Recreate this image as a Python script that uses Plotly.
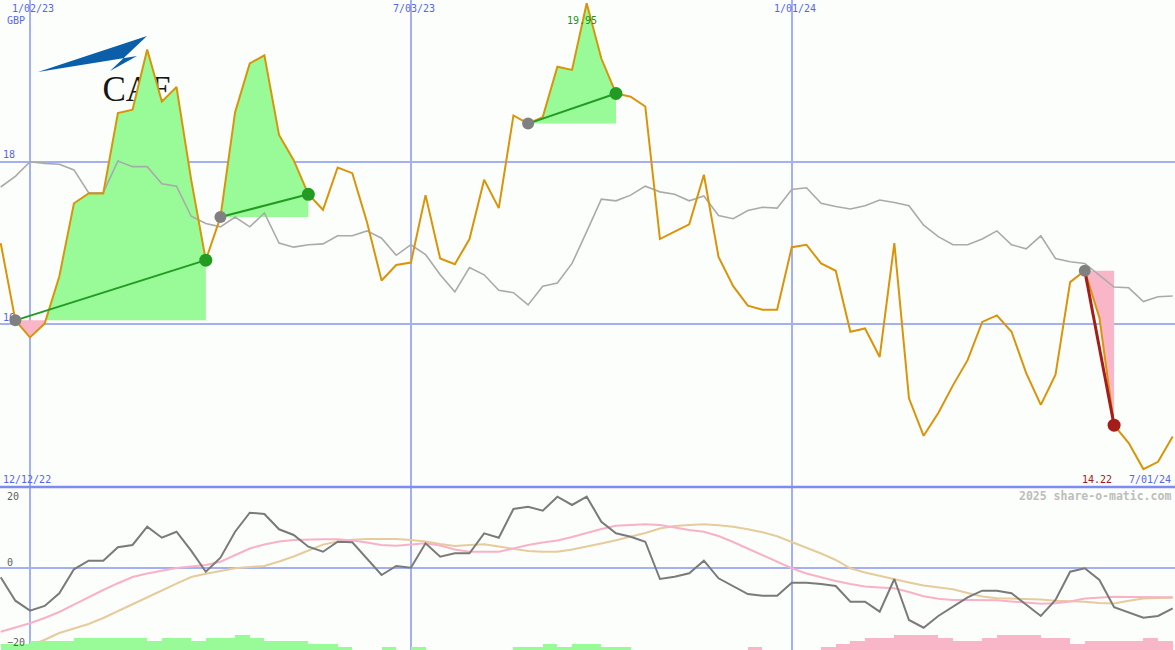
import plotly.graph_objects as go
import pandas as pd

# weekly closes, Monday 19 Dec 2022 .. Monday 1 Jul 2024
dates = pd.date_range("2022-12-19", periods=81, freq="7D")

price = [
    17.00, 16.05, 15.84, 16.01, 16.59, 17.49, 17.61, 17.61, 18.60, 18.64,
    19.38, 18.74, 18.92, 17.78, 16.79, 17.32, 18.61, 19.21, 19.31, 18.33,
    18.02, 17.60, 17.41, 17.93, 17.86, 17.26, 16.54, 16.73, 16.76, 17.59,
    16.81, 16.74, 17.05, 17.78, 17.43, 18.57, 18.47, 18.55, 19.17, 19.13,
    19.95, 19.27, 18.84, 18.80, 18.68, 17.05, 17.14, 17.23, 17.84, 16.83,
    16.47, 16.23, 16.18, 16.18, 16.95, 16.98, 16.75, 16.66, 15.91, 15.95,
    15.60, 17.00, 15.09, 14.63, 14.91, 15.25, 15.56, 16.03, 16.11, 15.91,
    15.40, 15.01, 15.38, 16.52, 16.66, 16.08, 14.76, 14.54, 14.22, 14.31,
    14.62,
]

moving_avg = [
    17.69, 17.82, 18.00, 17.98, 17.97, 17.90, 17.62, 17.62, 18.01, 17.94,
    17.94, 17.73, 17.70, 17.33, 17.24, 17.20, 17.32, 17.20, 17.37, 17.00,
    16.95, 16.98, 16.99, 17.09, 17.09, 17.15, 17.06, 16.85, 16.98, 16.86,
    16.61, 16.40, 16.70, 16.61, 16.42, 16.39, 16.24, 16.47, 16.51, 16.75,
    17.14, 17.54, 17.52, 17.59, 17.70, 17.63, 17.60, 17.52, 17.58, 17.34,
    17.30, 17.40, 17.44, 17.43, 17.66, 17.68, 17.49, 17.45, 17.42, 17.46,
    17.53, 17.50, 17.46, 17.22, 17.08, 16.98, 16.98, 17.05, 17.15, 16.98,
    16.93, 17.09, 16.81, 16.77, 16.75, 16.61, 16.46, 16.45, 16.28, 16.34,
    16.35,
]

momentum = [
    -2.63, -9.04, -11.78, -10.49, -7.01, -0.44, 1.92, 1.92, 5.59, 6.22,
    11.23, 8.22, 9.86, 4.66, -1.10, 2.74, 9.86, 15.07, 14.71, 10.52,
    8.96, 5.75, 4.38, 7.12, 6.96, 2.38, -2.00, 0.47, 0.00, 6.68,
    3.01, 3.95, 3.95, 9.42, 8.22, 16.08, 16.71, 15.62, 19.45, 17.18,
    19.45, 12.60, 9.42, 8.49, 7.12, -3.10, -2.47, -1.53, 1.92, -2.90,
    -5.01, -7.21, -7.67, -7.67, -4.11, -4.11, -4.47, -5.01, -9.32, -9.32,
    -12.05, -3.10, -14.33, -16.44, -13.23, -10.68, -8.11, -6.30, -6.30, -7.01,
    -10.22, -13.23, -8.85, -1.10, -0.16, -3.37, -10.85, -12.33, -13.70, -13.23,
    -11.12,
]

momentum_fast = [
    -17.53, -16.38, -15.23, -13.78, -12.14, -10.11, -8.03, -6.11, -4.25, -2.55,
    -1.59, -0.77, -0.08, 0.30, 0.74, 1.64, 3.48, 5.26, 6.36, 7.18,
    7.59, 7.78, 7.78, 7.78, 7.45, 6.90, 6.22, 6.03, 6.36, 6.68,
    6.08, 4.99, 4.38, 4.38, 4.38, 5.26, 6.22, 6.90, 7.45, 8.41,
    9.56, 10.60, 11.48, 11.75, 11.89, 11.70, 10.93, 10.33, 9.86, 8.68,
    7.04, 5.26, 3.34, 1.56, -0.14, -1.59, -2.68, -3.64, -4.47, -5.15,
    -5.42, -5.64, -6.66, -7.81, -8.52, -8.85, -8.85, -8.85, -8.93, -9.26,
    -9.53, -9.89, -9.75, -9.26, -8.44, -8.16, -7.97, -8.03, -8.11, -8.11,
    -8.11,
]

momentum_slow = [
    -24.70, -23.10, -21.37, -19.73, -17.89, -16.66, -15.42, -13.78, -11.95, -10.00,
    -8.11, -6.25, -4.36, -2.55, -1.64, -0.90, -0.14, 0.19, 0.47, 1.70,
    3.07, 4.71, 6.33, 7.18, 7.67, 7.86, 7.86, 7.86, 7.59, 7.15,
    6.49, 5.97, 6.22, 6.41, 5.78, 5.23, 4.58, 4.38, 4.38, 4.99,
    5.75, 6.63, 7.53, 8.49, 9.51, 10.74, 11.42, 11.70, 11.89, 11.62,
    11.23, 10.52, 9.73, 8.60, 7.04, 5.53, 3.89, 2.11, -0.16, -1.32,
    -2.27, -3.10, -4.05, -4.88, -5.42, -5.92, -6.93, -7.89, -8.38, -8.47,
    -8.58, -8.71, -9.07, -9.21, -9.32, -9.67, -9.81, -9.04, -8.44, -8.30,
    -8.22,
]

# trend strength histogram (signed levels)
trend_levels = [
    2, 2, 3, 3, 3, 4, 4, 4, 4, 4,
    3, 4, 4, 3, 4, 4, 5, 4, 3, 3,
    3, 2, 2, 1, 0, 0, 1, 0, 1, 0,
    0, 0, 0, 0, 0, 1, 1, 2, 1, 2,
    2, 1, 1, 0, 0, 0, 0, 0, 0, 0,
    0, -1, 0, 0, 0, 0, -1, -2, -3, -4,
    -4, -5, -5, -5, -4, -3, -3, -4, -5, -5,
    -5, -4, -4, -2, -3, -3, -3, -3, -4, -3,
    0,
]

trade_entry = ["2022-12-26", "2023-04-03", "2023-08-28", "2024-05-20"]
trade_exit = ["2023-03-27", "2023-05-15", "2023-10-09", "2024-06-03"]

date_ticks = ["2023-01-02", "2023-07-03", "2024-01-01"]
date_tick_text = ["1/02/23", "7/03/23", "1/01/24"]
start_label = "12/12/22"
end_label = "7/01/24"

W, H = 1175, 650
SPLIT = 487  # pixel row where the two panels meet

GREEN_FILL = "#98fb98"
PINK_FILL = "#f9b6c8"
BLUE_TXT = "#5566ee"
GRID = "#a3b1f3"
MONO = "DejaVu Sans Mono"


def clipped(xs, ys, base, upper):
    """points of max/min(ys, base) with the crossings inserted"""
    ox, oy = [], []
    for i in range(len(xs)):
        if i > 0:
            a, b = ys[i - 1] - base, ys[i] - base
            if a * b < 0:
                t = a / (a - b)
                ox.append(xs[i - 1] + (xs[i] - xs[i - 1]) * t)
                oy.append(base)
        ox.append(xs[i])
        oy.append(max(ys[i], base) if upper else min(ys[i], base))
    return ox, oy


fig = go.Figure()
date_list = list(dates)

# trade areas
for e, x in zip(trade_entry, trade_exit):
    i0 = date_list.index(pd.Timestamp(e))
    i1 = date_list.index(pd.Timestamp(x))
    xs = date_list[i0:i1 + 1]
    ys = price[i0:i1 + 1]
    base = price[i0]
    for upper, col in ((True, GREEN_FILL), (False, PINK_FILL)):
        px_, py_ = clipped(xs, ys, base, upper)
        fig.add_trace(go.Scatter(
            x=px_ + [xs[-1], xs[0]], y=py_ + [base, base],
            fill="toself", fillcolor=col, line=dict(width=0),
            mode="lines", hoverinfo="skip", showlegend=False))

fig.add_trace(go.Scatter(x=dates, y=moving_avg, mode="lines",
                         line=dict(color="#aaaaaa", width=1.6),
                         showlegend=False))
fig.add_trace(go.Scatter(x=dates, y=price, mode="lines",
                         line=dict(color="#d9940a", width=2),
                         showlegend=False))

# trade connectors + markers
for e, x in zip(trade_entry, trade_exit):
    i0 = date_list.index(pd.Timestamp(e))
    i1 = date_list.index(pd.Timestamp(x))
    win = price[i1] >= price[i0]
    col = "#239b23" if win else "#a51c1c"
    fig.add_trace(go.Scatter(x=[dates[i0], dates[i1]], y=[price[i0], price[i1]],
                             mode="lines", line=dict(color=col, width=2 if win else 3),
                             showlegend=False))
    fig.add_trace(go.Scatter(x=[dates[i0]], y=[price[i0]], mode="markers",
                             marker=dict(color="#808080", size=12),
                             showlegend=False))
    fig.add_trace(go.Scatter(x=[dates[i1]], y=[price[i1]], mode="markers",
                             marker=dict(color=col, size=13),
                             showlegend=False))

# lower panel
fig.add_trace(go.Bar(
    x=dates, y=[abs(v) for v in trend_levels], yaxis="y3",
    offset=0, width=7 * 86400000,
    marker=dict(color=[GREEN_FILL if v > 0 else PINK_FILL for v in trend_levels],
                line=dict(width=0)),
    showlegend=False))
fig.add_trace(go.Scatter(x=dates, y=momentum_slow, yaxis="y2", mode="lines",
                         line=dict(color="#e6cb9c", width=2), showlegend=False))
fig.add_trace(go.Scatter(x=dates, y=momentum_fast, yaxis="y2", mode="lines",
                         line=dict(color="#f8b2c8", width=2), showlegend=False))
fig.add_trace(go.Scatter(x=dates, y=momentum, yaxis="y2", mode="lines",
                         line=dict(color="#7a7a7a", width=2), showlegend=False))

split = (H - SPLIT) / H
fig.update_layout(
    width=W, height=H,
    margin=dict(l=0, r=0, t=0, b=0),
    paper_bgcolor="#fcfefb", plot_bgcolor="#fcfefb",
    bargap=0,
    xaxis=dict(range=["2022-12-18 16:00", "2024-07-02 02:30"],
               tickvals=date_ticks, showticklabels=False,
               showgrid=True, gridcolor=GRID, gridwidth=1.5,
               zeroline=False, showline=False),
    yaxis=dict(domain=[split, 1], range=[14.0, 19.99],
               tickvals=[16, 18], ticktext=["16", "18"],
               ticklabelposition="inside top", ticks="",
               tickfont=dict(family=MONO, size=10, color=BLUE_TXT),
               showgrid=True, gridcolor=GRID, gridwidth=2,
               zeroline=False, layer="below traces"),
    yaxis2=dict(domain=[0, split], range=[-22.55, 22.11],
                tickvals=[0], showticklabels=False,
                showgrid=True, gridcolor=GRID, gridwidth=2,
                zeroline=False),
    yaxis3=dict(overlaying="y2", range=[0, (H - SPLIT) / 3],
                showgrid=False, showticklabels=False, zeroline=False),
    hovermode=False,
)

# separator between panels
fig.add_shape(type="line", xref="paper", yref="paper",
              x0=0, x1=1, y0=split, y1=split,
              line=dict(color="#7d8cf0", width=2.5), layer="above")

# logo (behind the data)
fig.add_shape(type="path", xref="paper", yref="paper", layer="below",
              path="M {:.4f},{:.4f} L {:.4f},{:.4f} L {:.4f},{:.4f} L {:.4f},{:.4f} Z".format(
                  38 / W, 1 - 72 / H, 147 / W, 1 - 36 / H,
                  110 / W, 1 - 71 / H, 137 / W, 1 - 56 / H),
              fillcolor="#0b5fa8", line=dict(width=0))
fig.add_shape(type="rect", xref="paper", yref="paper", layer="below",
              x0=95 / W, x1=180 / W, y0=1 - 100 / H, y1=1 - 70 / H,
              line=dict(width=0), fillcolor="rgba(0,0,0,0)",
              label=dict(text="CAE", font=dict(family="Liberation Serif",
                                                size=35, color="#161616"),
                         textposition="middle center"))


def ann(text, x, y, color, xanchor="center", size=10, bold=False, xref="paper", xshift=0):
    fig.add_annotation(
        text="<b>%s</b>" % text if bold else text,
        x=x / W if xref == "paper" else x, xref=xref,
        y=1 - y / H, yref="paper", xanchor=xanchor, yanchor="middle",
        xshift=xshift, showarrow=False,
        font=dict(family=MONO, size=size, color=color))


for d, t in zip(date_ticks, date_tick_text):
    ann(t, d, 8, BLUE_TXT, xref="x", xshift=3)
ann("GBP", 5, 21, BLUE_TXT, xanchor="left")
ann(start_label, 1, 479, BLUE_TXT, xanchor="left")
ann(end_label, 1173, 479, BLUE_TXT, xanchor="right")

hi = max(price)
lo = min(price)
ann("%.2f" % hi, dates[price.index(hi)], 21, "#1f8f1f", xref="x", xshift=-5)
ann("%.2f" % lo, dates[price.index(lo)], 479, "#a01820", xref="x", xshift=-46)

ann("20", 5, 496, "#606060", xanchor="left")
ann("0", 5, 562, "#606060", xanchor="left")
ann("\u221220", 5, 642, "#606060", xanchor="left")
ann("2025 share-o-matic.com", 1173, 496, "#bdbdbd", xanchor="right", size=11.5, bold=True)

fig.write_html("out.html", config=dict(displayModeBar=False),
               post_script="document.body.style.margin='0';"
                           "document.body.style.overflow='hidden';")
